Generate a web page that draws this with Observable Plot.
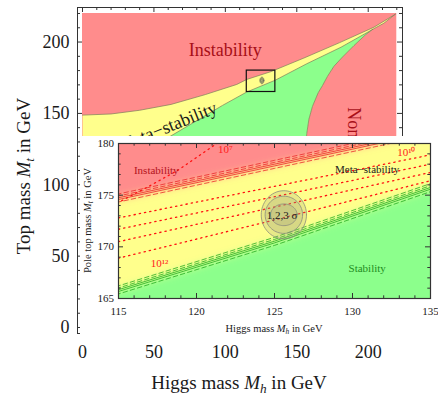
<!DOCTYPE html>
<html>
<head>
<meta charset="utf-8">
<script src="https://cdn.jsdelivr.net/npm/d3@7"></script>
<script src="https://cdn.jsdelivr.net/npm/@observablehq/plot@0.6"></script>
<style>
  html, body { margin: 0; padding: 0; background: #fff; }
  #wrap { position: relative; width: 438px; height: 397px; overflow: hidden; }
  #inset { position: absolute; left: 80px; top: 136px; }
  svg { display: block; }
</style>
</head>
<body>
<div id="wrap"><div id="outer"></div><div id="inset"></div></div>
<script>
// ================= DATA =================
// Points are [Higgs mass Mh, top mass Mt] in GeV.

// ---- outer, full-range panel ----
const outerXTicks = [0, 50, 100, 150, 200];
const outerYTicks = [0, 50, 100, 150, 200];
const outerMinorTicks = [10, 20, 30, 40, 60, 70, 80, 90, 110, 120, 130, 140, 160, 170, 180, 190, 210, 220];
const outerRange = [0, 220];
const instabilityCurve = [[0, 148.8], [20, 149.6], [40, 152.2], [62, 156.3], [86, 163.2], [108, 170.3], [115, 173.8], [132, 179.3], [155, 188.8], [180, 199.6], [204, 210.4], [219, 219.5]];
const stabilityCurve = [[0, 98], [60.5, 133.4], [98, 155.6], [115, 165.0], [135, 173.3], [157, 184.8], [181, 196.4], [203, 208.8]];
const nonPertCurve = [[203, 208.8], [198, 205], [190, 197.5], [182, 189.5], [176, 183], [171.5, 176], [168, 169.5], [165, 164.5], [161, 155], [158.5, 146], [157, 136], [155, 110], [153, 0]];
const wedgeEdge = [[219, 219.5], [211, 213.2], [203, 208.8]];
const outerLabels = [
  {text: "Instability", mh: 100, mt: 194, rotate: 0, anchor: "middle", color: "#a80f18"},
  {text: "Meta\u2212stability", mh: 59.5, mt: 140.6, rotate: -22, anchor: "middle", color: "#1a1a1a"},
  {text: "Non-perturbativity", mh: 189.6, mt: 154.4, rotate: 90, anchor: "start", color: "#a80f18"}
];

// ---- inset, zoomed panel ----
const insetX = [115, 135];
const insetY = [165, 180];
const insetXTicks = [115, 120, 125, 130, 135];
const insetYTicks = [165, 170, 175, 180];
const insetXMinor = [116, 117, 118, 119, 121, 122, 123, 124, 126, 127, 128, 129, 131, 132, 133, 134];
const insetYMinor = [166, 167, 168, 169, 171, 172, 173, 174, 176, 177, 178, 179];
const instabilityLine = [[115, 174.7], [125, 177.95], [135, 181.2]];
const stabilityLine = [[115, 165.8], [125, 170.5], [135, 175.7]];
const bandOffsets = [0.42, 0.22, 0.05, -0.12, -0.36];
const bandDashed = [true, true, false, false, true];
const lambdaLines = [
  [[115, 174.3], [117, 175.9], [118.8, 177.4], [121.3, 180]],
  [[115, 172.8], [125, 175.85], [135, 178.9]],
  [[115, 171.7], [125, 174.85], [135, 178.0]],
  [[115, 170.5], [125, 173.85], [135, 177.2]],
  [[115, 168.9], [125, 172.6], [135, 176.4]]
];
const fitCenter = [125.6, 173.1];
const sigmaRadii = [[1.45, 2.33], [1.2, 1.8], [0.85, 1.05]]; // 3, 2, 1 sigma
const insetLabels = [
  {text: "Instability", mh: 117.42, mt: 177.39, color: "#b3121c"},
  {text: "Meta\u2212stability", mh: 130.94, mt: 177.48, color: "#1a1a1a"},
  {text: "Stability", mh: 130.94, mt: 167.87, color: "#1e8c1e"},
  {text: "1,2,3 \u03c3", mh: 125.48, mt: 173.03, color: "#1a1a1a"},
  {text: "10\u2077", mh: 121.86, mt: 179.42, color: "#ff2020"},
  {text: "10\u00b9\u2070", mh: 133.45, mt: 179.1, color: "#ff2020"},
  {text: "10\u00b9\u00b2", mh: 117.63, mt: 168.43, color: "#ff2020"}
];

// ================= STYLE / LAYOUT =================
const RED = "#ff8c8c", YEL = "#ffff8c", GRN = "#8cff8c", EDGE = "#7d7d5a";
const FONT = "'Liberation Serif', 'Times New Roman', serif";
const X = d => d[0], Y = d => d[1];

function ellipse(c, rx, ry) {
  return d3.range(0, 361, 5).map(a => [c[0] + rx * Math.cos(a * Math.PI / 180), c[1] + ry * Math.sin(a * Math.PI / 180)]);
}
function extend(pts, d) {
  const a = pts[0], b = pts[1], c = pts[pts.length - 2], e = pts[pts.length - 1];
  const s0 = (b[1] - a[1]) / (b[0] - a[0]), s1 = (e[1] - c[1]) / (e[0] - c[0]);
  return [[a[0] - d, a[1] - s0 * d], ...pts, [e[0] + d, e[1] + s1 * d]];
}

// ================= OUTER PLOT =================
const oW = 438, oH = 397, oML = 77, oMR = 36, oMT = 7, oMB = 64;
const oFW = oW - oML - oMR, oFH = oH - oMT - oMB;

const yellowPoly = [...instabilityCurve, ...wedgeEdge.slice(1), ...nonPertCurve.slice(1), [outerRange[0], outerRange[0]]];
const greenPoly = [...stabilityCurve, ...nonPertCurve.slice(1), [outerRange[0], outerRange[0]]];

const outer = Plot.plot({
  width: oW, height: oH,
  marginLeft: oML, marginRight: oMR, marginTop: oMT, marginBottom: oMB,
  x: {domain: [-3.5, 224]},
  y: {domain: [-4.2, 224.2]},
  style: {fontFamily: FONT, color: "#1a1a1a", background: "white"},
  marks: [
    Plot.rect([outerRange], {x1: d => d[0], x2: d => d[1], y1: d => d[0], y2: d => d[1], fill: RED}),
    Plot.line(yellowPoly, {x: X, y: Y, fill: YEL, stroke: "none"}),
    Plot.line(greenPoly, {x: X, y: Y, fill: GRN, stroke: "none"}),
    Plot.line(instabilityCurve, {x: X, y: Y, stroke: EDGE, strokeWidth: 0.7}),
    Plot.line(stabilityCurve, {x: X, y: Y, stroke: EDGE, strokeWidth: 0.7}),
    Plot.line(nonPertCurve, {x: X, y: Y, stroke: EDGE, strokeWidth: 0.7}),
    Plot.line(wedgeEdge, {x: X, y: Y, stroke: EDGE, strokeWidth: 0.7}),
    ...sigmaRadii.map(r => Plot.line(ellipse(fitCenter, r[0], r[1]), {x: X, y: Y, fill: "#9a9a78", fillOpacity: 0.35, stroke: "#6a6a5a", strokeWidth: 0.6})),
    Plot.rect([[insetX, insetY]], {x1: d => d[0][0], x2: d => d[0][1], y1: d => d[1][0], y2: d => d[1][1], fill: "none", stroke: "#111", strokeWidth: 1.2}),
    ...outerLabels.map(l => Plot.text([l], {x: "mh", y: "mt", text: "text", rotate: l.rotate, textAnchor: l.anchor, lineAnchor: "middle", fill: l.color, fontSize: 18})),
    Plot.frame({stroke: "#333", strokeWidth: 1}),
    Plot.tickX(outerXTicks, {x: d => d, insetTop: oFH - 5, stroke: "#333"}),
    Plot.tickX(outerXTicks, {x: d => d, insetBottom: oFH - 5, stroke: "#333"}),
    Plot.tickX(outerMinorTicks, {x: d => d, insetTop: oFH - 3, stroke: "#333"}),
    Plot.tickX(outerMinorTicks, {x: d => d, insetBottom: oFH - 3, stroke: "#333"}),
    Plot.tickY(outerYTicks, {y: d => d, insetRight: oFW - 5, stroke: "#333"}),
    Plot.tickY(outerYTicks, {y: d => d, insetLeft: oFW - 5, stroke: "#333"}),
    Plot.tickY(outerMinorTicks, {y: d => d, insetRight: oFW - 3, stroke: "#333"}),
    Plot.tickY(outerMinorTicks, {y: d => d, insetLeft: oFW - 3, stroke: "#333"}),
    Plot.axisX(outerXTicks, {anchor: "bottom", tickSize: 0, tickPadding: 12, fontSize: 18, label: null}),
    Plot.axisY(outerYTicks, {anchor: "left", tickSize: 0, tickPadding: 8, fontSize: 18, label: null})
  ]
});
const outerSvg = outer.tagName.toLowerCase() === "svg" ? outer : outer.querySelector("svg");
document.getElementById("outer").appendChild(outer);

function title(svg, x, y, rotate, size, parts) {
  const t = d3.select(svg).append("text")
    .attr("transform", `translate(${x},${y}) rotate(${rotate})`)
    .attr("text-anchor", "middle")
    .attr("font-family", FONT).attr("font-size", size).attr("fill", "#1a1a1a");
  t.append("tspan").text(parts[0]);
  t.append("tspan").attr("font-style", "italic").text("M");
  t.append("tspan").attr("font-style", "italic").attr("font-size", size * 0.7).attr("dy", size * 0.22).text(parts[1]);
  t.append("tspan").attr("dy", -size * 0.22).text(parts[2]);
}
title(outerSvg, 239, 389, 0, 19, ["Higgs mass ", "h", " in GeV"]);
title(outerSvg, 30, 176, -90, 19, ["Top mass ", "t", " in GeV"]);

// ================= INSET PLOT =================
const iW = 358, iH = 204, iML = 38, iMR = 8, iMT = 7, iMB = 42;
const iFW = iW - iML - iMR, iFH = iH - iMT - iMB;

const redPolyI = [...extend(instabilityLine, 6), [141, 190], [109, 190]];
const greenPolyI = [...extend(stabilityLine, 6), [141, 158], [109, 158]];

const bandMarks = [];
[[instabilityLine, "#e8141e"], [stabilityLine, "#12a012"]].forEach(([ln, col]) => {
  bandOffsets.forEach((off, i) => {
    bandMarks.push(Plot.line(extend(ln, 2).map(p => [p[0], p[1] + off]), {
      x: X, y: Y, stroke: col, strokeWidth: 0.7, clip: true,
      strokeDasharray: bandDashed[i] ? "4.5,3" : null
    }));
  });
});

const inset = Plot.plot({
  width: iW, height: iH,
  marginLeft: iML, marginRight: iMR, marginTop: iMT, marginBottom: iMB,
  x: {domain: insetX},
  y: {domain: insetY},
  style: {fontFamily: FONT, color: "#1a1a1a", background: "white"},
  marks: [
    Plot.frame({fill: YEL, stroke: "none"}),
    Plot.line(redPolyI, {x: X, y: Y, fill: RED, stroke: "none", clip: true}),
    Plot.line(greenPolyI, {x: X, y: Y, fill: GRN, stroke: "none", clip: true}),
    ...lambdaLines.map(l => Plot.line(extend(l, 1), {x: X, y: Y, stroke: "#ff1010", strokeWidth: 1.3, strokeDasharray: "1.3,4", clip: true})),
    ...bandMarks,
    ...sigmaRadii.map(r => Plot.line(ellipse(fitCenter, r[0], r[1]), {x: X, y: Y, fill: "#9a9a7a", fillOpacity: 0.22, stroke: "#8c8c7c", strokeWidth: 0.8})),
    ...insetLabels.map(l => Plot.text([l], {x: "mh", y: "mt", text: "text", fill: l.color, fontSize: 11})),
    Plot.frame({stroke: "#333", strokeWidth: 1.2}),
    Plot.tickX(insetXTicks, {x: d => d, insetTop: iFH - 5, stroke: "#333"}),
    Plot.tickX(insetXTicks, {x: d => d, insetBottom: iFH - 5, stroke: "#333"}),
    Plot.tickX(insetXMinor, {x: d => d, insetTop: iFH - 2.7, stroke: "#333"}),
    Plot.tickX(insetXMinor, {x: d => d, insetBottom: iFH - 2.7, stroke: "#333"}),
    Plot.tickY(insetYTicks, {y: d => d, insetRight: iFW - 5, stroke: "#333"}),
    Plot.tickY(insetYTicks, {y: d => d, insetLeft: iFW - 5, stroke: "#333"}),
    Plot.tickY(insetYMinor, {y: d => d, insetRight: iFW - 2.7, stroke: "#333"}),
    Plot.tickY(insetYMinor, {y: d => d, insetLeft: iFW - 2.7, stroke: "#333"}),
    Plot.axisX(insetXTicks, {anchor: "bottom", tickSize: 0, tickPadding: 8.5, fontSize: 11, label: null}),
    Plot.axisY(insetYTicks, {anchor: "left", tickSize: 0, tickPadding: 4.5, fontSize: 11, label: null})
  ]
});
const insetSvg = inset.tagName.toLowerCase() === "svg" ? inset : inset.querySelector("svg");
document.getElementById("inset").appendChild(inset);

// soft colour grading of the region boundaries
const defs = d3.select(insetSvg).insert("defs", ":first-child");
defs.append("filter").attr("id", "soft")
  .attr("x", "-20%").attr("y", "-50%").attr("width", "140%").attr("height", "200%")
  .append("feGaussianBlur").attr("stdDeviation", "3 4.5");
d3.select(insetSvg).selectAll('g[aria-label="line"]').filter((d, i) => i < 2)
  .selectAll("path").attr("filter", "url(#soft)");

title(insetSvg, 194, 196, 0, 10.5, ["Higgs mass ", "h", " in GeV"]);
title(insetSvg, 10.5, 84.5, -90, 10.5, ["Pole top mass ", "t", " in GeV"]);
</script>
</body>
</html>
